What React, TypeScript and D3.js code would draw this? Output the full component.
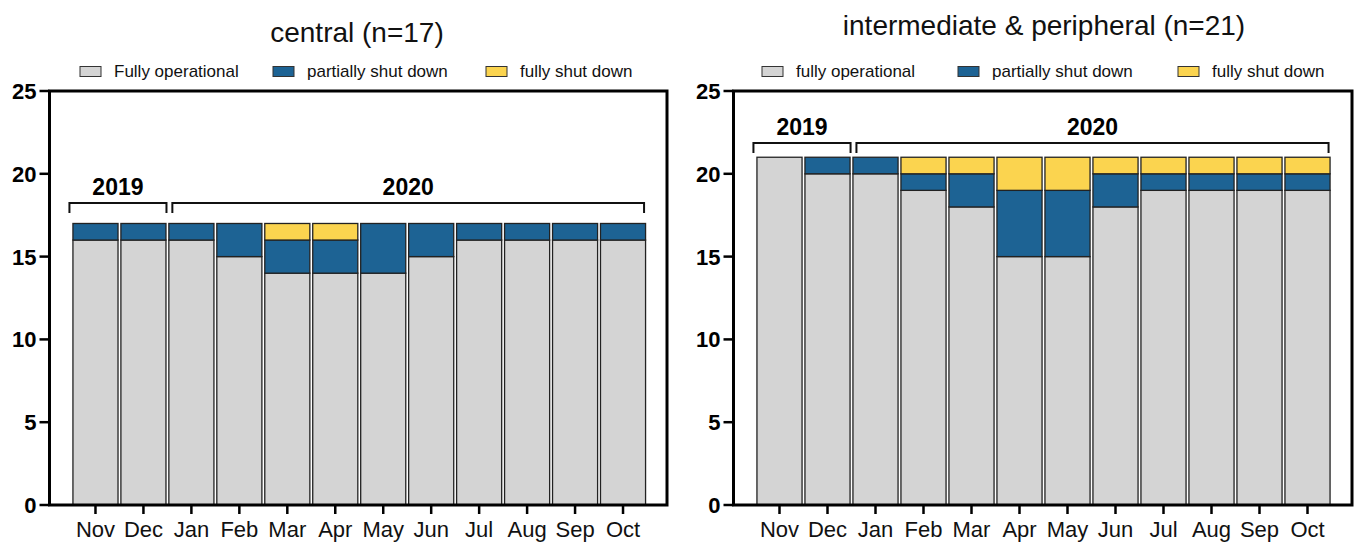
import React from 'react';
import * as d3 from 'd3';

const MONTHS = ['Nov', 'Dec', 'Jan', 'Feb', 'Mar', 'Apr', 'May', 'Jun', 'Jul', 'Aug', 'Sep', 'Oct'];
const Y_TICKS = [0, 5, 10, 15, 20, 25];
const SERIES_KEYS = ['operational', 'partial', 'shut'];
const COLORS = ['#d4d4d4', '#1d6394', '#fbd44f'];

const CENTRAL_OPERATIONAL = [16, 16, 16, 15, 14, 14, 14, 15, 16, 16, 16, 16];
const CENTRAL_PARTIAL = [1, 1, 1, 2, 2, 2, 3, 2, 1, 1, 1, 1];
const CENTRAL_SHUT = [0, 0, 0, 0, 1, 1, 0, 0, 0, 0, 0, 0];

const PERIPH_OPERATIONAL = [21, 20, 20, 19, 18, 15, 15, 18, 19, 19, 19, 19];
const PERIPH_PARTIAL = [0, 1, 1, 1, 2, 4, 4, 2, 1, 1, 1, 1];
const PERIPH_SHUT = [0, 0, 0, 1, 1, 2, 2, 1, 1, 1, 1, 1];

const CENTRAL_LEGEND = ['Fully operational', 'partially shut down', 'fully shut down'];
const PERIPH_LEGEND = ['fully operational', 'partially shut down', 'fully shut down'];

const YEAR_GROUPS = [
  { label: '2019', from: 'Nov', to: 'Dec' },
  { label: '2020', from: 'Jan', to: 'Oct' },
];

const FONT = '"Liberation Sans", Arial, Helvetica, sans-serif';

type Geo = {
  axisX: number;
  frameRight: number;
  barStart: number;
  barEnd: number;
  titleX: number;
  titleY: number;
  legendX: number[];
  bracketY: number;
  yearY: number;
};

function Panel(props: {
  title: string;
  legend: string[];
  operational: number[];
  partial: number[];
  shut: number[];
  geo: Geo;
}) {
  const { title, legend, operational, partial, shut, geo } = props;
  const top = 91;
  const bottom = 505;
  const y = d3.scaleLinear().domain([0, 25]).range([bottom, top]);
  const x = d3
    .scaleBand<string>()
    .domain(MONTHS)
    .range([geo.barStart, geo.barEnd])
    .paddingInner(0.06)
    .paddingOuter(0.03);

  const rows = MONTHS.map((m, i) => ({
    month: m,
    operational: operational[i],
    partial: partial[i],
    shut: shut[i],
  }));
  const stacked = d3.stack<any>().keys(SERIES_KEYS)(rows);

  return (
    <g>
      <text
        x={geo.titleX}
        y={geo.titleY}
        textAnchor="middle"
        fontSize={28}
        fontFamily={FONT}
        fill="#111"
      >
        {title}
      </text>
      {legend.map((lab, i) => (
        <g key={lab}>
          <rect
            x={geo.legendX[i]}
            y={66.5}
            width={21}
            height={10}
            fill={COLORS[i]}
            stroke="#333"
            strokeWidth={1}
          />
          <text
            x={geo.legendX[i] + 34}
            y={77}
            fontSize={17}
            fontFamily={FONT}
            fill="#111"
          >
            {lab}
          </text>
        </g>
      ))}
      {stacked.map((layer, li) =>
        layer.map((d, i) => {
          const h = y(d[0]) - y(d[1]);
          if (h <= 0) return null;
          return (
            <rect
              key={`${li}-${i}`}
              x={x(MONTHS[i])}
              y={y(d[1])}
              width={x.bandwidth()}
              height={h}
              fill={COLORS[li]}
              stroke="#222"
              strokeWidth={1.3}
            />
          );
        })
      )}
      {/* frame */}
      <rect
        x={geo.axisX}
        y={top}
        width={geo.frameRight - geo.axisX}
        height={bottom - top}
        fill="none"
        stroke="#000"
        strokeWidth={3}
      />
      {/* y ticks */}
      {Y_TICKS.map((t) => (
        <g key={t}>
          <line x1={geo.axisX - 10} x2={geo.axisX} y1={y(t)} y2={y(t)} stroke="#000" strokeWidth={2.5} />
          <text
            x={geo.axisX - 13}
            y={y(t) + 8}
            textAnchor="end"
            fontSize={22}
            fontWeight="bold"
            fontFamily={FONT}
            fill="#000"
          >
            {t}
          </text>
        </g>
      ))}
      {/* x ticks */}
      {MONTHS.map((m) => {
        const cx = (x(m) as number) + x.bandwidth() / 2;
        return (
          <g key={m}>
            <line x1={cx} x2={cx} y1={bottom} y2={bottom + 9} stroke="#000" strokeWidth={2.5} />
            <text x={cx} y={537} textAnchor="middle" fontSize={22} fontFamily={FONT} fill="#111">
              {m}
            </text>
          </g>
        );
      })}
      {/* year brackets */}
      {YEAR_GROUPS.map((g, gi) => {
        const x1 = (x(g.from) as number) + (gi === 0 ? -3.5 : 3.5);
        const x2 = (x(g.to) as number) + x.bandwidth() + (gi === 0 ? 0.5 : -1.5);
        const by = geo.bracketY;
        return (
          <g key={g.label}>
            <path
              d={`M${x1},${by + 10}V${by}H${x2}V${by + 10}`}
              fill="none"
              stroke="#111"
              strokeWidth={2}
            />
            <text
              x={(x1 + x2) / 2}
              y={geo.yearY}
              textAnchor="middle"
              fontSize={23}
              fontWeight="bold"
              fontFamily={FONT}
              fill="#000"
            >
              {g.label}
            </text>
          </g>
        );
      })}
    </g>
  );
}

export default function App() {
  const leftGeo: Geo = {
    axisX: 49.5,
    frameRight: 667,
    barStart: 71.5,
    barEnd: 647,
    titleX: 357,
    titleY: 42,
    legendX: [80, 273, 486],
    bracketY: 203,
    yearY: 195,
  };
  const rightGeo: Geo = {
    axisX: 733.5,
    frameRight: 1352,
    barStart: 755.5,
    barEnd: 1331.5,
    titleX: 1044,
    titleY: 35,
    legendX: [762, 958, 1178],
    bracketY: 143,
    yearY: 135,
  };
  return (
    <svg
      width={1357}
      height={542}
      style={{ position: 'absolute', left: 0, top: 0, background: '#fff' }}
    >
      <rect x={0} y={0} width={1357} height={542} fill="#fff" />
      <Panel
        title="central (n=17)"
        legend={CENTRAL_LEGEND}
        operational={CENTRAL_OPERATIONAL}
        partial={CENTRAL_PARTIAL}
        shut={CENTRAL_SHUT}
        geo={leftGeo}
      />
      <Panel
        title="intermediate & peripheral (n=21)"
        legend={PERIPH_LEGEND}
        operational={PERIPH_OPERATIONAL}
        partial={PERIPH_PARTIAL}
        shut={PERIPH_SHUT}
        geo={rightGeo}
      />
    </svg>
  );
}
